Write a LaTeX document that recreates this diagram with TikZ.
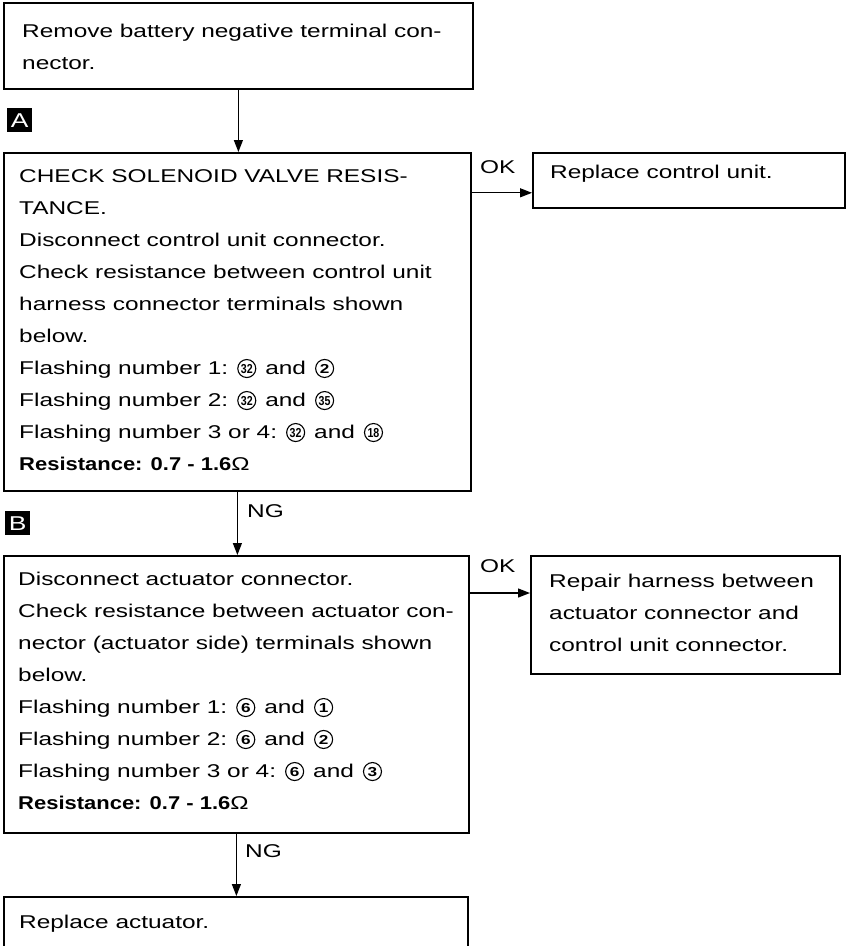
\documentclass[tikz,border=0pt]{standalone}
\usepackage{fontspec}
\usepackage{graphicx}
\setmainfont{Liberation Sans}[FakeStretch=1.32]
\usetikzlibrary{arrows.meta}
\tikzset{cnstyle/.style={circle,draw=black,line width=1.1pt,inner sep=0pt,minimum size=18pt,font=\bfseries\fontsize{13}{13}\selectfont}}
\newcommand\cnum[1]{\tikz[baseline={([yshift=-1pt]cn.base)}]\node[cnstyle] (cn) {#1};}
\newcommand\cnumw[1]{\tikz[baseline={([yshift=-1pt]cn.base)}]\node[cnstyle] (cn) {\scalebox{0.62}[1]{#1}};}
\newcommand\cgap{\hspace{9pt}}
\newcommand\resline{\scalebox{0.9}[1]{\textbf{Resistance: 0.7 - 1.6}}Ω}
\begin{document}
\begin{tikzpicture}[x=1pt,y=-1pt,
 box/.style={draw=black,line width=1.8pt,rectangle,inner sep=0pt,anchor=north west},
 txt/.style={inner sep=0pt,anchor=base west,font=\fontsize{18.5}{32}\selectfont},
 lab/.style={fill=black,text=white,inner sep=0pt,minimum width=25pt,minimum height=24pt,anchor=north west,font=\fontsize{20}{20}\selectfont},
 arr/.style={line width=1.3pt,-{Triangle[width=9pt,length=12pt]}},
 tag/.style={inner sep=0pt,anchor=base west,font=\fontsize{18.5}{20}\selectfont}]
\useasboundingbox (0,0) rectangle (854,946);
\clip (0,0) rectangle (854,946);

% boxes
\node[box,minimum width=469pt,minimum height=86pt] (b1) at (3,2) {};
\node[box,minimum width=467pt,minimum height=338pt] (bA) at (3,152) {};
\node[box,minimum width=312pt,minimum height=55pt] (rc) at (532,152) {};
\node[box,minimum width=465pt,minimum height=277pt] (bB) at (3,555) {};
\node[box,minimum width=309pt,minimum height=118pt] (rh) at (530,555) {};
\node[box,minimum width=464pt,minimum height=100pt] (bE) at (3,896) {};

% texts
\node[txt] (t1) at (22,37) {\parbox[t]{600pt}{\raggedright Remove battery negative terminal con-\\nector.}};
\node[txt] (tA) at (19,182) {\parbox[t]{600pt}{\raggedright CHECK SOLENOID VALVE RESIS-\\TANCE.\\Disconnect control unit connector.\\Check resistance between control unit\\harness connector terminals shown\\below.\\Flashing number 1:\cgap\cnumw{32}\cgap and\cgap\cnum{2}\\Flashing number 2:\cgap\cnumw{32}\cgap and\cgap\cnumw{35}\\Flashing number 3 or 4:\cgap\cnumw{32}\cgap and\cgap\cnumw{18}\\\resline}};
\node[txt] (tC) at (550,178) {Replace control unit.};
\node[txt] (tB) at (18,585) {\parbox[t]{600pt}{\raggedright Disconnect actuator connector.\\Check resistance between actuator con-\\nector (actuator side) terminals shown\\below.\\Flashing number 1:\cgap\cnum{6}\cgap and\cgap\cnum{1}\\Flashing number 2:\cgap\cnum{6}\cgap and\cgap\cnum{2}\\Flashing number 3 or 4:\cgap\cnum{6}\cgap and\cgap\cnum{3}\\\resline}};
\node[txt] (tH) at (549,587) {\parbox[t]{400pt}{\raggedright Repair harness between\\actuator connector and\\control unit connector.}};
\node[txt] (tE) at (19,928) {Replace actuator.};

% step labels
\node[lab] (lA) at (7,108) {A};
\node[lab] (lB) at (5,511) {B};

% connectors
\draw[arr] (b1.south) -- (b1.south |- bA.north);
\draw[arr] (bA.south) -- (bA.south |- bB.north);
\draw[arr] (bB.south) -- (bB.south |- bE.north);
\coordinate (okA) at ([yshift=16pt]rc.south west);
\draw[arr] (bA.east |- okA) -- (okA);
\coordinate (okB) at ([yshift=-38pt]rh.north west);
\draw[arr] (bB.east |- okB) -- (okB);

% connector labels
\node[tag] (okAl) at (480,173) {OK};
\node[tag] (ngAl) at (247,517) {NG};
\node[tag] (okBl) at (480,572) {OK};
\node[tag] (ngBl) at (245,857) {NG};
\end{tikzpicture}
\end{document}
